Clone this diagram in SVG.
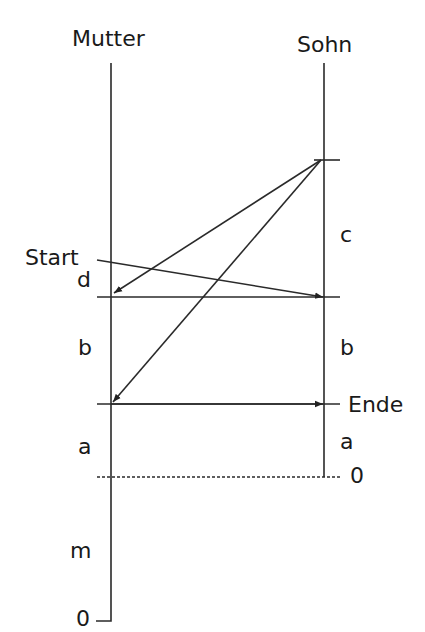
<svg xmlns="http://www.w3.org/2000/svg" width="425" height="632" viewBox="0 0 425 632">
<defs>
<marker id="ah" viewBox="0 0 10 10" refX="10" refY="5" markerWidth="8" markerHeight="8" markerUnits="userSpaceOnUse" orient="auto">
<path d="M0,1 L10,5 L0,9 Z" fill="#222"/>
</marker>
<style>
text{font-family:"DejaVu Sans","Liberation Sans",sans-serif;font-size:22px;fill:#1a1a1a}
.ln{stroke:#2a2a2a;stroke-width:1.6;fill:none}
.dot{stroke:#2a2a2a;stroke-width:1.6;stroke-dasharray:3 2;fill:none}
</style>
</defs>
<rect width="425" height="632" fill="#fff"/>
<g id="mutter">
<text x="72" y="46">Mutter</text>
<path class="ln" d="M111,63 V621 H96"/>
</g>
<g id="sohn">
<text x="297" y="52">Sohn</text>
<path class="ln" d="M324,63 V477"/>
<path class="ln" d="M314,160 H340"/>
</g>
<g id="labels">
<text x="25" y="265">Start</text>
<text x="77" y="287">d</text>
<text x="340" y="242">c</text>
<text x="78" y="355">b</text>
<text x="340" y="355">b</text>
<text x="348" y="412">Ende</text>
<text x="78" y="454">a</text>
<text x="340" y="449">a</text>
<text x="350" y="483">0</text>
<text x="70" y="558">m</text>
<text x="76" y="626">0</text>
</g>
<g id="connectors">
<path class="ln" d="M97,297 H340"/>
<path class="ln" d="M97,404 H340"/>
<path class="ln" d="M97,260 L323,297" marker-end="url(#ah)"/>
<path class="ln" d="M321,160 L114,293" marker-end="url(#ah)"/>
<path class="ln" d="M321,160 L113,402" marker-end="url(#ah)"/>
<path class="ln" d="M111,404 L323,404" marker-end="url(#ah)"/>
<path class="dot" d="M97,477 H340"/>
</g>
</svg>
